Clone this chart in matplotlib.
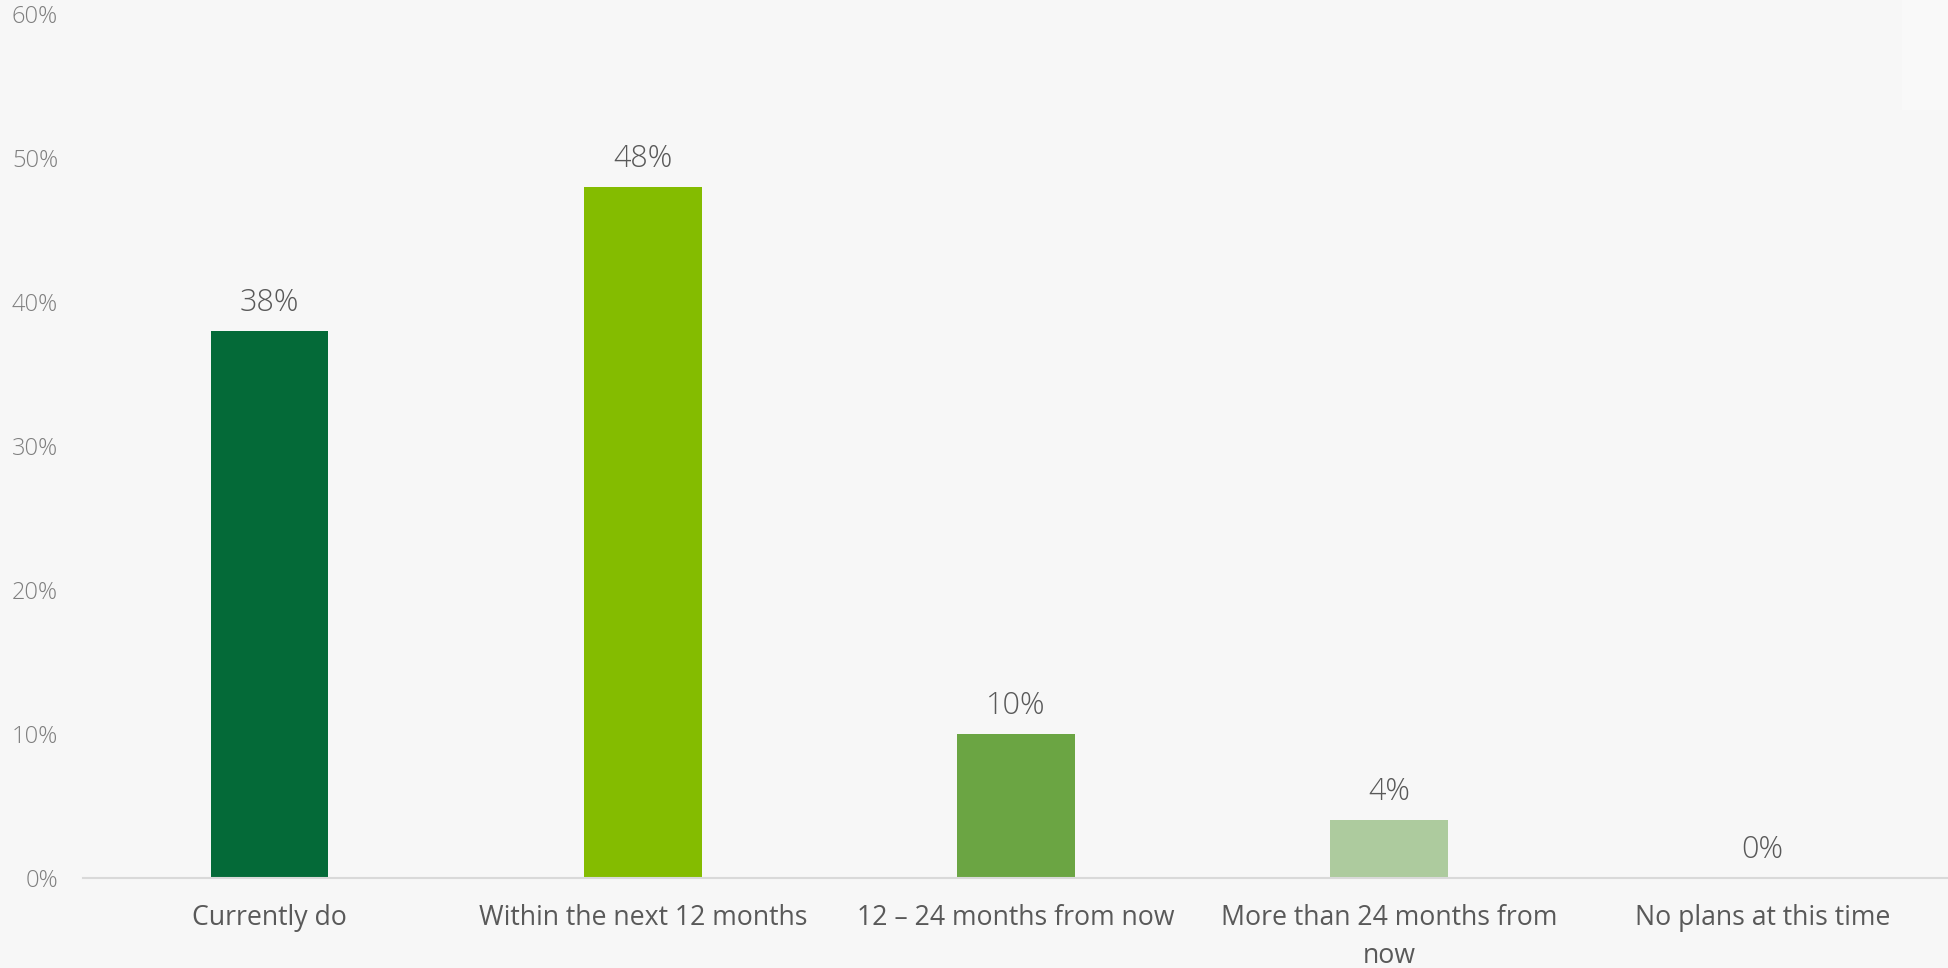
import matplotlib
matplotlib.use("Agg")
import matplotlib.pyplot as plt
from matplotlib.patches import Rectangle

categories = ["Currently do", "Within the next 12 months", "12 \u2013 24 months from now",
              "More than 24 months from\nnow", "No plans at this time"]
values = [38, 48, 10, 4, 0]
colors = ["#046A38", "#84BC00", "#6BA543", "#ADCB9E", "#C4D6A0"]
yticks = [0, 10, 20, 30, 40, 50, 60]
ytick_labels = ["0%", "10%", "20%", "30%", "40%", "50%", "60%"]

plt.rcParams['font.family'] = ['Open Sans', 'DejaVu Sans']
bg = "#F7F7F7"
fig = plt.figure(figsize=(19.49, 9.68), dpi=100, facecolor=bg)
fig.patches.append(Rectangle((1902/1949, 1-110/968), 47/1949, 110/968,
                             transform=fig.transFigure, facecolor="#F9F9F9",
                             edgecolor="none", zorder=0))
ax = fig.add_axes([83/1949, 90/968, 1-83/1949, (878-14.4)/968])
ax.set_facecolor("none")

x = list(range(len(categories)))
bars = ax.bar(x, values, width=0.315, color=colors, zorder=2)
ax.set_xlim(-0.5, len(categories) - 0.5)
ax.set_ylim(0, 60)
ax.set_yticks(yticks)
ax.set_yticklabels(ytick_labels, fontsize=17, color="#7F7F7F", fontweight="light")
ax.set_xticks(x)
ax.set_xticklabels(categories, fontsize=19.2, color="#595959", linespacing=1.45)
ax.tick_params(axis='y', length=0, pad=18)
ax.tick_params(axis='x', length=0, pad=19)
for s in ["top", "right", "left"]:
    ax.spines[s].set_visible(False)
ax.spines["bottom"].set_color("#D9D9D9")
ax.spines["bottom"].set_linewidth(1.5)

for xi, v in zip(x, values):
    ax.annotate(f"{v}%", (xi, v), xytext=(0, 9), textcoords="offset points",
                ha="center", va="bottom", fontsize=22, color="#595959",
                fontweight="light")

fig.savefig("out.png", dpi=100, facecolor=bg)
